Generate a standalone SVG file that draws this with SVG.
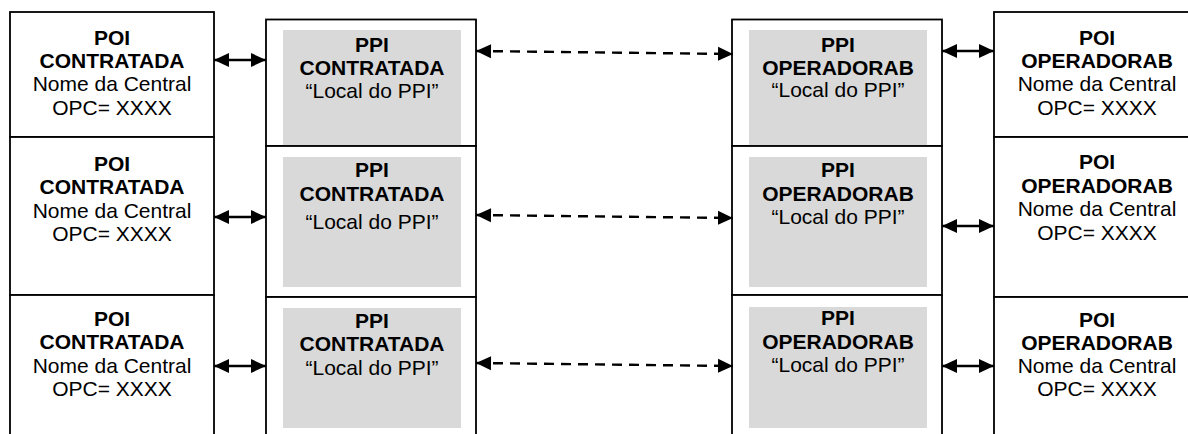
<svg xmlns="http://www.w3.org/2000/svg" width="1188" height="434" viewBox="0 0 1188 434">
<style>
.box{fill:#fff;stroke:#000;stroke-width:1.8}
.grey{fill:#d9d9d9;stroke:none}
text{font-family:"Liberation Sans",Arial,sans-serif;font-size:21px;text-anchor:middle;fill:#000}
.b{font-weight:bold}
.conn{stroke:#000;stroke-width:2.4;fill:none}
.dash{stroke-dasharray:10 7}
</style>
<defs>
<marker id="ae" markerUnits="userSpaceOnUse" markerWidth="18" markerHeight="18" refX="15" refY="8" orient="auto"><path d="M0,1 L15,8 L0,15 z" fill="#000"/></marker>
<marker id="as" markerUnits="userSpaceOnUse" markerWidth="18" markerHeight="18" refX="0" refY="8" orient="auto"><path d="M15,1 L0,8 L15,15 z" fill="#000"/></marker>
</defs>
<rect width="1188" height="434" fill="#fff"/>

<g id="poi-l1"><rect class="box" x="10" y="12" width="204" height="125"/>
<text x="112" y="45" class="b">POI</text><text x="112" y="68" class="b">CONTRATADA</text><text x="112" y="91">Nome da Central</text><text x="112" y="115">OPC= XXXX</text></g>
<g id="poi-l2"><rect class="box" x="10" y="137" width="204" height="158"/>
<text x="112" y="171" class="b">POI</text><text x="112" y="194" class="b">CONTRATADA</text><text x="112" y="218">Nome da Central</text><text x="112" y="241">OPC= XXXX</text></g>
<g id="poi-l3"><rect class="box" x="10" y="295" width="204" height="150"/>
<text x="112" y="326" class="b">POI</text><text x="112" y="349" class="b">CONTRATADA</text><text x="112" y="373">Nome da Central</text><text x="112" y="396">OPC= XXXX</text></g>

<g id="ppi-l1"><rect class="box" x="266" y="19.5" width="210" height="126.5"/><rect class="grey" x="283" y="30" width="178" height="115.5"/>
<text x="372" y="52" class="b">PPI</text><text x="372" y="75" class="b">CONTRATADA</text><text x="372" y="98">“Local do PPI”</text></g>
<g id="ppi-l2"><rect class="box" x="266" y="146" width="210" height="151"/><rect class="grey" x="283" y="157" width="178" height="130"/>
<text x="372" y="177" class="b">PPI</text><text x="372" y="201" class="b">CONTRATADA</text><text x="372" y="229">“Local do PPI”</text></g>
<g id="ppi-l3"><rect class="box" x="266" y="297" width="210" height="150"/><rect class="grey" x="283" y="308" width="178" height="120"/>
<text x="372" y="328" class="b">PPI</text><text x="372" y="351" class="b">CONTRATADA</text><text x="372" y="375">“Local do PPI”</text></g>

<g id="ppi-r1"><rect class="box" x="732" y="19.5" width="210" height="126.5"/><rect class="grey" x="749" y="30" width="178" height="115.5"/>
<text x="838" y="52" class="b">PPI</text><text x="838" y="75" class="b">OPERADORAB</text><text x="838" y="97">“Local do PPI”</text></g>
<g id="ppi-r2"><rect class="box" x="732" y="146" width="210" height="149"/><rect class="grey" x="749" y="157" width="178" height="130"/>
<text x="838" y="177" class="b">PPI</text><text x="838" y="201" class="b">OPERADORAB</text><text x="838" y="224">“Local do PPI”</text></g>
<g id="ppi-r3"><rect class="box" x="732" y="295" width="210" height="150"/><rect class="grey" x="749" y="307" width="178" height="121"/>
<text x="838" y="325" class="b">PPI</text><text x="838" y="349" class="b">OPERADORAB</text><text x="838" y="372">“Local do PPI”</text></g>

<g id="poi-r1"><rect class="box" x="994" y="12" width="210" height="125"/>
<text x="1097" y="45" class="b">POI</text><text x="1097" y="68" class="b">OPERADORAB</text><text x="1097" y="91">Nome da Central</text><text x="1097" y="115">OPC= XXXX</text></g>
<g id="poi-r2"><rect class="box" x="994" y="137" width="210" height="160"/>
<text x="1097" y="169" class="b">POI</text><text x="1097" y="193" class="b">OPERADORAB</text><text x="1097" y="216">Nome da Central</text><text x="1097" y="240">OPC= XXXX</text></g>
<g id="poi-r3"><rect class="box" x="994" y="297" width="210" height="150"/>
<text x="1097" y="327" class="b">POI</text><text x="1097" y="350" class="b">OPERADORAB</text><text x="1097" y="373">Nome da Central</text><text x="1097" y="396">OPC= XXXX</text></g>

<g id="connectors">
<line class="conn" x1="214" y1="60" x2="266" y2="60" marker-start="url(#as)" marker-end="url(#ae)"/>
<line class="conn" x1="214" y1="217" x2="266" y2="217" marker-start="url(#as)" marker-end="url(#ae)"/>
<line class="conn" x1="214" y1="366" x2="266" y2="366" marker-start="url(#as)" marker-end="url(#ae)"/>
<line class="conn dash" x1="476" y1="51" x2="733" y2="54" marker-start="url(#as)" marker-end="url(#ae)"/>
<line class="conn dash" x1="476" y1="215" x2="733" y2="218" marker-start="url(#as)" marker-end="url(#ae)"/>
<line class="conn dash" x1="476" y1="363" x2="733" y2="366" marker-start="url(#as)" marker-end="url(#ae)"/>
<line class="conn" x1="942" y1="51" x2="994" y2="51" marker-start="url(#as)" marker-end="url(#ae)"/>
<line class="conn" x1="942" y1="226" x2="994" y2="226" marker-start="url(#as)" marker-end="url(#ae)"/>
<line class="conn" x1="942" y1="366" x2="994" y2="366" marker-start="url(#as)" marker-end="url(#ae)"/>
</g>
</svg>
